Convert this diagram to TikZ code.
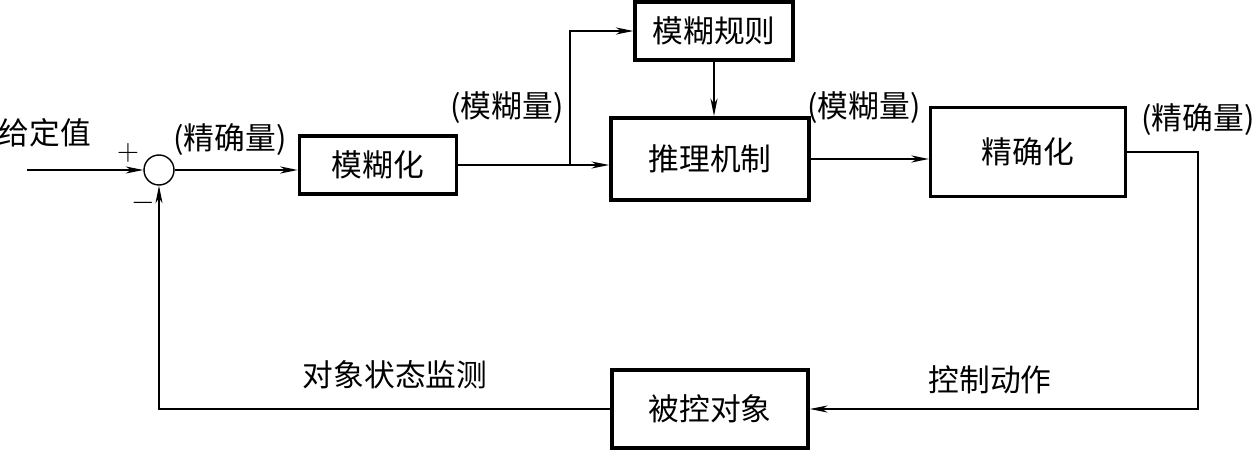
\documentclass[tikz,border=0pt]{standalone}
\usepackage{fontspec}
\newfontfamily\cjk{Noto Sans CJK SC}
\usetikzlibrary{arrows.meta}

\begin{document}
\begin{tikzpicture}[x=0.02cm,y=-0.02cm,
    bloc/.style={draw,line width=2pt,inner sep=0pt,font=\cjk\fontsize{17.5}{20}\selectfont},
    etiq/.style={inner sep=0pt,font=\cjk\fontsize{17.5}{20}\selectfont},
    signe/.style={inner sep=0pt,font=\fontsize{16}{18}\selectfont},
    ligne/.style={line width=0.9pt},
    fleche/.style={line width=0.9pt,-{Stealth[length=10pt,width=4pt,inset=3pt]}}]
    \useasboundingbox (0,0) rectangle (1253,452);
    % Comparateur et entree
    \node[draw,circle,line width=0.8pt,minimum size=0.6cm,inner sep=0pt] (somme) at (159,170) {};
    \coordinate (entree) at (27,170);
    \node[etiq] (consigne) at (45,133) {给定值};
    \node[signe] (plus) at (128,153) {$+$};
    \node[signe] (moins) at (143,203) {$-$};
    % Blocs
    \node[bloc,minimum width=3.14cm,minimum height=1.16cm] (flou) at (378,165) {模糊化};
    \node[bloc,line width=1.8pt,minimum width=3.16cm,minimum height=1.16cm] (regles) at (714,31) {模糊规则};
    \node[bloc,line width=2.2pt,minimum width=3.96cm,minimum height=1.64cm] (infer) at (710,159) {推理机制};
    \node[bloc,line width=1.8pt,minimum width=3.9cm,minimum height=1.78cm] (defl) at (1028,152) {精确化};
    \node[bloc,line width=2.2pt,minimum width=3.92cm,minimum height=1.56cm] (objet) at (710,409) {被控对象};
    % Etiquettes
    \node[etiq] (pr1) at (230,140) {(精确量)};
    \node[etiq] (fl1) at (507,108) {(模糊量)};
    \node[etiq] (fl2) at (864,108) {(模糊量)};
    \node[etiq] (pr2) at (1198,120) {(精确量)};
    \node[etiq] (action) at (990,380) {控制动作};
    \node[etiq] (mesure) at (395,375) {对象状态监测};
    % Liaisons
    \coordinate (branche) at (570,165);
    \coordinate (coin) at (1198,409);
    \draw[fleche] (entree) -- (somme.west);
    \draw[fleche,line width=1.3pt] (somme.east) -- (somme.east -| flou.west);
    \draw[fleche] (flou.east) -- (flou.east -| infer.west);
    \draw[fleche] (branche) |- (regles.west);
    \draw[fleche] (regles.south) -- (regles.south |- infer.north);
    \draw[fleche] (infer.east) -- (infer.east -| defl.west);
    \draw[fleche,line width=0.7pt] (defl.east) -| (coin) -- (objet.east);
    \draw[fleche,line width=0.7pt] (objet.west) -| (somme.south);
\end{tikzpicture}
\end{document}
